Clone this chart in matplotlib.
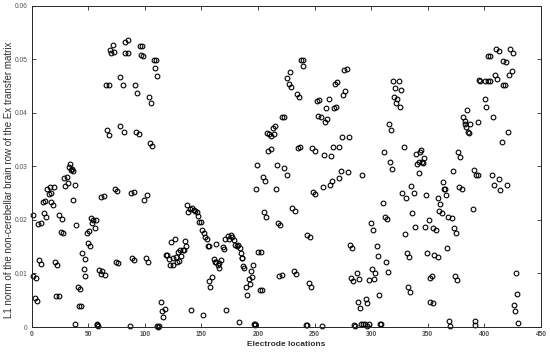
import matplotlib
matplotlib.use("Agg")
import matplotlib.pyplot as plt
from matplotlib.ticker import FuncFormatter

plt.rcParams['font.family'] = ['Liberation Sans', 'DejaVu Sans']

# electrode index / L1 norm
x_a = [1, 1, 4, 3, 5, 6, 8, 6.5, 8.5, 10, 12, 11, 12.6, 14, 15.3, 16, 17, 17.6, 18.8, 19.7,
       21, 22.6, 22, 24, 24.7, 26.8, 26, 28, 29, 31, 30, 32, 33, 34, 35, 35.6, 36.5, 36.8,
       38, 39.7, 38.8, 41, 43, 42, 44, 44.7, 46, 47, 47.6, 48.8, 51, 49.7, 51.8, 52.6, 53.8,
       54.4, 56, 57, 57.6, 58.2, 58.6, 59.7, 61, 62.6, 64.7, 61.8, 63.8, 66, 68, 67, 68.8,
       69.4, 71.8, 70.6, 72.9, 73.5, 75.6, 74.4, 76.2, 77.8, 78, 81, 82.5, 84.8, 83, 85.4,
       81.6, 86.8, 87.7, 90.1, 88.9, 90.6, 91.8, 93.6, 92.7, 94.7, 95.6, 98, 96.8, 98.8]
y_a = [0.0209, 0.0095, 0.0091, 0.0054, 0.0049, 0.0192, 0.0195, 0.0125, 0.0117, 0.0233, 0.0235,
       0.0212, 0.0205, 0.0258, 0.0248, 0.0262, 0.0251, 0.0233, 0.0227, 0.0261, 0.0121, 0.0115,
       0.0058, 0.0057, 0.0209, 0.0201, 0.0177, 0.0175, 0.0279, 0.0281, 0.0264, 0.0268, 0.0299,
       0.0304, 0.0293, 0.0295, 0.0292, 0.0238, 0.0266, 0.0190, 0.0006, 0.0074, 0.0071, 0.0040,
       0.0039, 0.0138, 0.0109, 0.0127, 0.0096, 0.0176, 0.0180, 0.0156, 0.0151, 0.0203, 0.0194,
       0.0199, 0.0184, 0.0199, 0.0005, 0.0003, 0.0001, 0.0106, 0.0099, 0.0105, 0.0098, 0.0243,
       0.0245, 0.0452, 0.0452, 0.0367, 0.0358, 0.0518, 0.0527, 0.0511, 0.0513, 0.0258, 0.0254,
       0.0122, 0.0119, 0.0466, 0.0375, 0.0452, 0.0532, 0.0536, 0.0512, 0.0512, 0.0365, 0.0001,
       0.0250, 0.0253, 0.0129, 0.0126, 0.0452, 0.0437, 0.0365, 0.0360, 0.0525, 0.0524, 0.0508,
       0.0506]

x_b = [101.8, 99.7, 100.9, 102.6, 103.8, 105.6, 104.7, 106.4, 107.9, 109.9, 108.8, 110.5,
       111, 112, 113, 114.3, 115.5, 117.5, 116.4, 118.7, 119.9, 121, 123.4, 126.3, 124.6,
       122.2, 125.1, 128, 129.2, 131, 133.4, 128.4, 130.4, 132.2, 134.5, 135.7, 136.8, 137.4,
       138.6, 140.4, 142.1, 143.3, 144.4, 145.9, 146.8, 140.9, 148.2, 149.4, 150.6, 152,
       153.5, 155, 155.5, 156.4, 151.5, 156.8, 158, 159.8, 161, 161.9, 163.3, 163, 164.5, 166,
       167.5, 165.4, 169.2, 170.4, 171.3, 173.4, 174.6, 176, 177.5, 178.5, 172.2, 179.9,
       181.1, 182.2, 184, 184.6, 185.5, 186.1, 187, 187.9, 189.6, 190.2, 192, 193.5, 194.4,
       195.6, 192.9, 183.1, 196.5, 197, 197.4]
y_b = [0.0247, 0.0238, 0.0128, 0.0122, 0.0430, 0.0419, 0.0344, 0.0338, 0.0498, 0.0498, 0.0483,
       0.0469, 0.0001, 0.0000, 0.0001, 0.0047, 0.0030, 0.0034, 0.0019, 0.0135, 0.0135, 0.0127,
       0.0159, 0.0165, 0.0128, 0.0116, 0.0116, 0.0131, 0.0141, 0.0143, 0.0144, 0.0122, 0.0123,
       0.0133, 0.0143, 0.0161, 0.0151, 0.0227, 0.0214, 0.0220, 0.0222, 0.0218, 0.0217, 0.0214,
       0.0208, 0.0032, 0.0197, 0.0197, 0.0182, 0.0176, 0.0169, 0.0164, 0.0152, 0.0152, 0.0022,
       0.0086, 0.0075, 0.0094, 0.0127, 0.0122, 0.0122, 0.0155, 0.0115, 0.0119, 0.0125, 0.0110,
       0.0150, 0.0145, 0.0164, 0.0170, 0.0164, 0.0171, 0.0168, 0.0162, 0.0032, 0.0153, 0.0152,
       0.0153, 0.0147, 0.0139, 0.0129, 0.0128, 0.0113, 0.0110, 0.0074, 0.0060, 0.0090, 0.0104,
       0.0094, 0.0116, 0.0080, 0.0009, 0.0005, 0.0003, 0.0005]

x_c = [198.2, 199.4, 200.3, 202.4, 201.5, 203.6, 204.1, 205.9, 205, 207.1, 208.3, 210, 211.8,
       214.2, 213, 214.8, 208.9, 211.2, 216, 216.9, 218, 219.8, 218.6, 221, 221, 223, 223,
       225.4, 225.7, 228.4, 227, 229, 230.2, 232.5, 231.4, 233.4, 234.3, 236.4, 235.5, 237.3,
       238.2, 240, 239.4, 243.5, 245.9, 245, 247, 242.4, 243.5, 248.8, 250.6, 248, 250,
       251.8, 254.1, 252.9, 255.3, 256.2, 257.4, 258.2, 259.1, 260.6, 260, 262.4, 263.2,
       265.3, 264.1, 266.2, 267, 269, 268, 270, 271.5, 272, 273, 273.8, 275, 276.8, 275.9,
       278.2, 279.4, 280.3, 281.2, 283.2, 282.1, 284.2, 287.1, 289.1, 284.8, 285.6, 288.2,
       289.8, 292, 295.3, 296.5, 291, 292.5, 294.5, 296, 298]
y_c = [0.0257, 0.0302, 0.0141, 0.0141, 0.0069, 0.0070, 0.0281, 0.0273, 0.0214, 0.0205, 0.0362,
       0.0360, 0.0357, 0.0361, 0.0372, 0.0375, 0.0329, 0.0332, 0.0257, 0.0302, 0.0195, 0.0190,
       0.0096, 0.0097, 0.0392, 0.0392, 0.0296, 0.0284, 0.0465, 0.0476, 0.0453, 0.0448, 0.0222,
       0.0217, 0.0104, 0.0099, 0.0435, 0.0430, 0.0334, 0.0337, 0.0498, 0.0498, 0.0488, 0.0172,
       0.0169, 0.0082, 0.0075, 0.0003, 0.0004, 0.0253, 0.0248, 0.0334, 0.0329, 0.0422, 0.0424,
       0.0394, 0.0392, 0.0001, 0.0262, 0.0322, 0.0383, 0.0389, 0.0409, 0.0425, 0.0265, 0.0273,
       0.0319, 0.0337, 0.0409, 0.0410, 0.0453, 0.0458, 0.0278, 0.0337, 0.0292, 0.0354, 0.0434,
       0.0440, 0.0479, 0.0481, 0.0289, 0.0354, 0.0154, 0.0147, 0.0092, 0.0085, 0.0100, 0.0089,
       0.0003, 0.0002, 0.0047, 0.0035, 0.0284, 0.0052, 0.0045, 0.0005, 0.0006, 0.0005, 0.0002,
       0.0006]

x_d = [298.2, 300.3, 302.3, 303.2, 299.4, 301.5, 304.7, 305.9, 307, 307.6, 308.8, 310.3,
       312.1, 314.1, 311.2, 313.2, 315, 316.2, 315.9, 317.3, 318.8, 319.3, 324.3, 321.3,
       326.6, 320.5, 323.1, 322.2, 325.1, 328.7, 327.5, 330.4, 329.5, 331.6, 333.3, 332.5,
       334.5, 335.4, 336.3, 337.4, 338.3, 339.2, 340.6, 341.8, 343.3, 345, 344.2, 346.2,
       345.6, 342.4, 347.4, 348.5, 349.4, 351, 351.5, 353.5, 352, 354.4, 355, 357.6, 355.8,
       358.8, 359, 361, 360, 362.6, 363.2, 364, 365.2, 366, 367.3, 368.1, 371.3, 369, 369.6,
       372.2, 373.1, 375.1, 374.3, 376, 376.6, 378.4, 377.8, 380.1, 381, 385, 382.7, 384,
       387.1, 385.4, 383, 386, 389.5, 390.4, 392.5, 393.9, 391.4, 391.4, 395.3, 394.4]
y_d = [0.0088, 0.0108, 0.0089, 0.0101, 0.0195, 0.0182, 0.0152, 0.0133, 0.0060, 0.0006, 0.0005,
       0.0232, 0.0206, 0.0202, 0.0326, 0.0121, 0.0103, 0.0309, 0.0379, 0.0368, 0.0295, 0.0460,
       0.0460, 0.0447, 0.0442, 0.0429, 0.0425, 0.0419, 0.0411, 0.0337, 0.0250, 0.0241, 0.0174,
       0.0139, 0.0131, 0.0074, 0.0065, 0.0264, 0.0212, 0.0250, 0.0186, 0.0323, 0.0304, 0.0309,
       0.0327, 0.0309, 0.0330, 0.0315, 0.0307, 0.0287, 0.0187, 0.0246, 0.0139, 0.0199, 0.0092,
       0.0095, 0.0047, 0.0044, 0.0184, 0.0181, 0.0134, 0.0131, 0.0241, 0.0229, 0.0217, 0.0213,
       0.0271, 0.0258, 0.0258, 0.0247, 0.0148, 0.0206, 0.0203, 0.0012, 0.0001, 0.0291, 0.0185,
       0.0176, 0.0096, 0.0088, 0.0326, 0.0318, 0.0261, 0.0257, 0.0392, 0.0406, 0.0379, 0.0374,
       0.0380, 0.0365, 0.0384, 0.0362, 0.0220, 0.0294, 0.0283, 0.0283, 0.0012, 0.0003, 0.0461,
       0.0382]

x_e = [396.5, 400.6, 403, 404.6, 400.3, 401.4, 402.9, 405.2, 407.2, 406.4, 408.1, 409.3,
       411.3, 409.9, 412.5, 413, 414.2, 415.1, 416.2, 418.3, 416.8, 419.1, 420, 420.9,
       421.7, 422.9, 425.2, 424, 427.5, 429, 426.1, 427.2, 430]
y_e = [0.0460, 0.0460, 0.0460, 0.0460, 0.0426, 0.0411, 0.0506, 0.0506, 0.0392, 0.0284, 0.0266,
       0.0470, 0.0463, 0.0519, 0.0516, 0.0276, 0.0256, 0.0345, 0.0451, 0.0452, 0.0496, 0.0495,
       0.0265, 0.0365, 0.0471, 0.0519, 0.0512, 0.0478, 0.0100, 0.0061, 0.0042, 0.0030, 0.0007]

electrode = x_a + x_b + x_c + x_d + x_e
l1_norm = y_a + y_b + y_c + y_d + y_e

fig = plt.figure(figsize=(5.5, 3.52), dpi=100)
ax = fig.add_axes([0.0573, 0.071, 0.9264, 0.9128])
ax.plot(electrode, l1_norm, 'o', mfc='none', mec='black', ms=3.4, mew=0.8, clip_on=False)

ax.set_xlim(0, 450)
ax.set_ylim(0, 0.06)
ax.set_xticks(range(0, 451, 50))
ax.set_yticks([0, 0.01, 0.02, 0.03, 0.04, 0.05, 0.06])
ax.yaxis.set_major_formatter(FuncFormatter(lambda v, p: f"{v:g}"))
ax.tick_params(direction='in', top=True, right=True, length=3, width=0.6,
               labelsize=4.8, colors='#262626', labelcolor='#505050', pad=3)
for lab in ax.get_xticklabels():
    lab.set_fontweight('bold')
for s in ax.spines.values():
    s.set_color('#262626')
    s.set_linewidth(0.7)

ax.set_xlabel("Electrode locations", fontsize=6.0, fontweight='bold', color='#303030', labelpad=2)
ax.set_ylabel("L1 norm of the non-cerebellar brain row of the Ex transfer matrix",
              fontsize=7.0, color='#303030')
ax.yaxis.set_label_coords(-0.035, 0.458)

fig.savefig("out.png", dpi=100)
